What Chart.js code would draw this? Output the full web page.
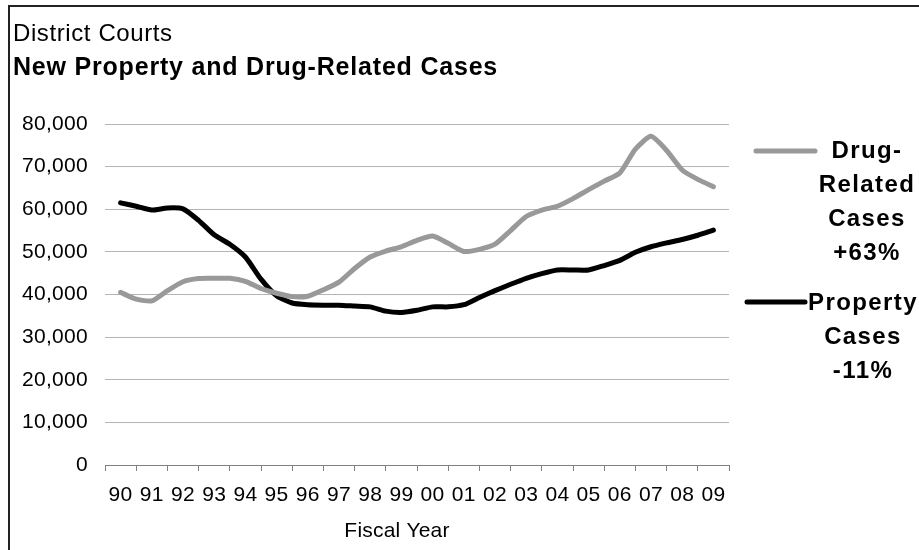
<!DOCTYPE html>
<html>
<head>
<meta charset="utf-8">
<script src="https://cdn.jsdelivr.net/npm/chart.js@4"></script>
<style>
  html, body { margin: 0; padding: 0; background: #fff; }
  canvas { display: block; }
</style>
</head>
<body>
<canvas id="chart" width="919" height="550"></canvas>
<script>
// Fiscal year tick labels (one per year, 1990 through 2009)
const yearLabels = ['90','91','92','93','94','95','96','97','98','99',
                    '00','01','02','03','04','05','06','07','08','09'];

// Half-year steps, measured in years from FY90
const periods = [0,0.5,1,1.5,2,2.5,3,3.5,4,4.5,5,5.5,6,6.5,7,7.5,8,8.5,9,9.5,
                 10,10.5,11,11.5,12,12.5,13,13.5,14,14.5,15,15.5,16,16.5,17,17.5,18,18.5,19];

// New drug-related cases filed
const drugCases = [40500,38900,38500,40900,43000,43750,43800,43800,43100,41400,
                   40300,39500,39600,41100,42900,46100,48800,50200,51200,52700,
                   53700,52000,50100,50600,51800,55000,58300,59800,60700,62500,
                   64600,66600,68500,74100,77100,73800,69200,67000,65300];

// New property cases filed
const propertyCases = [61500,60700,59800,60300,60100,57400,54000,51800,48800,43600,
                       39700,38000,37600,37500,37500,37300,37100,36100,35800,36300,
                       37100,37100,37600,39300,40900,42400,43800,44900,45750,45750,
                       45750,46800,48000,49900,51200,52100,52900,53900,55100];

// Y axis values
const yTicks = [0,10000,20000,30000,40000,50000,60000,70000,80000];

const seriesNames = ['Drug-Related Cases', 'Property Cases'];
const legendLines = [
  ['Drug-', 'Related', 'Cases', '+63%'],
  ['Property', 'Cases', '-11%']
];

const FONT = '"Liberation Sans", Arial, sans-serif';
const drugColor = '#999999';
const propertyColor = '#000000';

function toPoints(values) {
  return values.map((v, i) => ({ x: periods[i], y: v }));
}

// Frame, headings, axis title and the side legend
const decorations = {
  id: 'decorations',
  beforeUpdate(chart) {
    chart.ctx.letterSpacing = '0.3px';
  },
  beforeDraw(chart) {
    const ctx = chart.ctx;
    ctx.save();
    ctx.fillStyle = '#fff';
    ctx.fillRect(0, 0, chart.width, chart.height);
    ctx.restore();
  },
  afterDraw(chart) {
    const ctx = chart.ctx;
    ctx.save();
    // frame
    ctx.strokeStyle = '#222';
    ctx.lineWidth = 2;
    ctx.beginPath();
    ctx.moveTo(9, chart.height);
    ctx.lineTo(9, 6);
    ctx.lineTo(chart.width, 6);
    ctx.stroke();

    // headings
    ctx.fillStyle = '#000';
    ctx.textAlign = 'left';
    ctx.textBaseline = 'alphabetic';
    ctx.letterSpacing = '0.6px';
    ctx.font = '24px ' + FONT;
    ctx.fillText('District Courts', 13, 41);
    ctx.letterSpacing = '0.8px';
    ctx.font = 'bold 25px ' + FONT;
    ctx.fillText('New Property and Drug-Related Cases', 13, 75);

    // x axis title
    ctx.letterSpacing = '0.2px';
    ctx.font = '21px ' + FONT;
    ctx.textAlign = 'center';
    ctx.textBaseline = 'middle';
    ctx.fillText('Fiscal Year', 397, 531);

    // side legend
    const sets = chart.data.datasets;
    const entries = [
      { line: [756, 815, 151], textX: 867, top: 151, lines: legendLines[0], ds: sets[0] },
      { line: [747, 805, 302], textX: 863, top: 303, lines: legendLines[1], ds: sets[1] }
    ];
    ctx.font = 'bold 24px ' + FONT;
    ctx.letterSpacing = '1.4px';
    for (const e of entries) {
      ctx.strokeStyle = e.ds.borderColor;
      ctx.lineWidth = 5;
      ctx.lineCap = 'round';
      ctx.beginPath();
      ctx.moveTo(e.line[0], e.line[2]);
      ctx.lineTo(e.line[1], e.line[2]);
      ctx.stroke();
      e.lines.forEach((t, i) => {
        ctx.fillText(t, e.textX, e.top + i * 34);
      });
    }
    ctx.restore();
  }
};

new Chart(document.getElementById('chart'), {
  type: 'line',
  data: {
    datasets: [
      {
        label: seriesNames[0],
        data: toPoints(drugCases),
        borderColor: drugColor,
        borderWidth: 5,
        pointRadius: 0,
        tension: 0.2,
        borderJoinStyle: 'round',
        borderCapStyle: 'round'
      },
      {
        label: seriesNames[1],
        data: toPoints(propertyCases),
        borderColor: propertyColor,
        borderWidth: 5,
        pointRadius: 0,
        tension: 0.2,
        borderJoinStyle: 'round',
        borderCapStyle: 'round'
      }
    ]
  },
  options: {
    responsive: false,
    animation: false,
    events: [],
    layout: { padding: { top: 124, right: 190, bottom: 0, left: 0 } },
    plugins: {
      legend: { display: false },
      title: { display: false },
      tooltip: { enabled: false }
    },
    scales: {
      x: {
        type: 'linear',
        min: -0.5,
        max: 19.5,
        afterFit(scale) { scale.height = 85; },
        afterBuildTicks(scale) {
          const t = [];
          for (let i = 0; i <= yearLabels.length * 2; i++) t.push({ value: -0.5 + i * 0.5 });
          scale.ticks = t;
        },
        border: { display: true, color: '#808080', width: 1 },
        grid: {
          drawOnChartArea: false,
          drawTicks: true,
          tickLength: 6,
          color: (c) => (c.tick && Number.isInteger(c.tick.value)) ? 'rgba(0,0,0,0)' : '#808080',
          lineWidth: 1
        },
        ticks: {
          autoSkip: false,
          maxRotation: 0,
          minRotation: 0,
          padding: 12,
          color: '#000',
          font: { family: FONT, size: 21 },
          callback: (v) => Number.isInteger(v) ? yearLabels[v] : ''
        }
      },
      y: {
        min: 0,
        max: 80000,
        afterFit(scale) { scale.width = 105; },
        afterBuildTicks(scale) {
          scale.ticks = yTicks.map(v => ({ value: v }));
        },
        border: { display: false },
        grid: {
          drawTicks: false,
          color: '#b4b4b4',
          lineWidth: 1
        },
        ticks: {
          padding: 17,
          color: '#000',
          font: { family: FONT, size: 21 },
          callback: (v) => v.toLocaleString('en-US')
        }
      }
    }
  },
  plugins: [decorations]
});
</script>
</body>
</html>
